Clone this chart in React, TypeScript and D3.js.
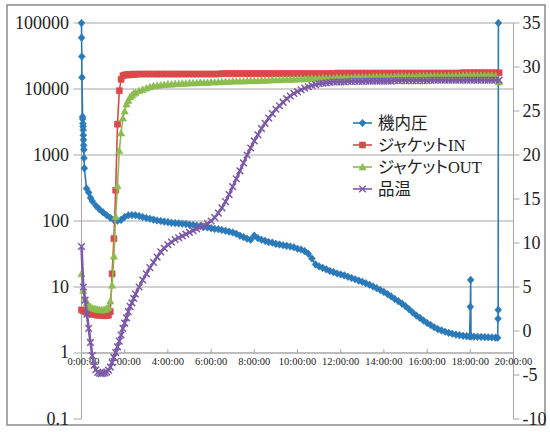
import React from 'react';
import * as d3 from 'd3';

// ---------- axis definitions ----------
const xTickMinutes = [0, 120, 240, 360, 480, 600, 720, 840, 960, 1080, 1200];
const xTickLabels = ['0:00:00', '2:00:00', '4:00:00', '6:00:00', '8:00:00', '10:00:00', '12:00:00', '14:00:00', '16:00:00', '18:00:00', '20:00:00'];
const leftTicks = [0.1, 1, 10, 100, 1000, 10000, 100000];
const leftTickLabels = ['0.1', '1', '10', '100', '1000', '10000', '100000'];
const rightTicks = [-10, -5, 0, 5, 10, 15, 20, 25, 30, 35];

const seriesNames = ['機内圧', 'ジャケットIN', 'ジャケットOUT', '品温'];
const seriesColors = ['#2a7ab9', '#d9494a', '#8bbd4f', '#7d5aa8'];

// ---------- pressure (left, log axis) ----------
const pressureMinutes = [
  0, 0.3, 0.8, 1.3, 3, 3.4, 3.8, 4.2, 4.6, 5, 5.5, 6, 6.5, 7, 8, 14, 20, 25, 30, 40, 50,
  60, 70, 80, 90, 100, 110, 120, 130, 140, 150, 160, 170, 180, 190, 200, 210, 220, 230, 240,
  250, 260, 270, 280, 290, 300, 310, 320, 330, 340, 350, 360, 370, 380, 390, 400, 410, 420,
  430, 440, 450, 460, 470, 480, 490, 500, 510, 520, 530, 540, 550, 560, 570, 580, 590, 600,
  610, 620, 630, 640, 650, 660, 670, 680, 690, 700, 710, 720, 730, 740, 750, 760, 770, 780,
  790, 800, 810, 820, 830, 840, 850, 860, 870, 880, 890, 900, 910, 920, 930, 940, 950, 960,
  970, 980, 990, 1000, 1010, 1020, 1030, 1040, 1050, 1060, 1070, 1078, 1080, 1081, 1082, 1090,
  1100, 1110, 1120, 1130, 1140, 1150, 1156, 1157, 1157.5, 1158,
];
const pressureValues = [
  100000, 60000, 31000, 15000, 3800, 3500, 3000, 2700, 2400, 2000, 1700, 1400, 1200, 900, 630, 310, 270, 225, 200, 170, 150,
  135, 122, 112, 104, 101, 104, 115, 122, 123, 122, 119, 115, 111, 108, 105, 102, 100, 98, 96,
  94, 93, 92, 91, 90, 88, 87, 85, 84, 82, 80, 78, 76, 75, 73, 71, 69, 67,
  64, 60, 57, 54, 52, 60, 55, 52, 50, 48, 47, 45, 44, 43, 42, 41, 40, 38,
  37, 35, 32, 27, 22, 20.5, 19.5, 18.5, 17.5, 16.8, 16.0, 15.5, 15.0, 14.3, 13.7, 13.1, 12.5, 12.0,
  11.4, 10.8, 10.2, 9.6, 9.0, 8.4, 7.8, 7.2, 6.6, 6.1, 5.6, 5.1, 4.6, 4.1, 3.7, 3.4, 3.1, 2.85,
  2.65, 2.45, 2.3, 2.2, 2.1, 2.02, 1.96, 1.9, 1.86, 1.82, 1.8, 1.78, 5.0, 12.8, 1.78, 1.77,
  1.76, 1.75, 1.74, 1.73, 1.72, 1.71, 1.7, 3.3, 4.5, 100000,
];

// ---------- temperatures (right axis) ----------
const tempMinutes = d3.range(0, 150, 5).concat(d3.range(150, 1170, 10));

const jacketIn = [
  // 0..145 (5 min)
  2.4, 2.3, 2.2, 2.1, 2.0, 2.0, 1.9, 1.9, 1.85, 1.8, 1.8, 1.8, 1.75, 1.75, 1.75, 1.8,
  2.2, 6.5, 10.5, 16.0, 23.5, 27.3, 28.6, 29.0, 29.1, 29.1, 29.15, 29.1, 29.15, 29.2,
  // 150..500
  29.15, 29.2, 29.2, 29.2, 29.2, 29.2, 29.2, 29.2, 29.2, 29.2, 29.2, 29.2, 29.2, 29.2, 29.2, 29.2,
  29.2, 29.2, 29.2, 29.2, 29.2, 29.2, 29.2, 29.2, 29.25, 29.25, 29.25, 29.25, 29.25, 29.25, 29.25, 29.25,
  29.25, 29.25, 29.25, 29.25,
  // 510..1160
  29.25, 29.25, 29.25, 29.25, 29.25, 29.25, 29.25, 29.25, 29.25, 29.25, 29.25, 29.25, 29.25, 29.25, 29.25, 29.25,
  29.25, 29.25, 29.25, 29.25, 29.3, 29.3, 29.3, 29.3, 29.3, 29.3, 29.3, 29.3, 29.3, 29.3, 29.3, 29.3,
  29.3, 29.3, 29.3, 29.3, 29.3, 29.3, 29.3, 29.3, 29.3, 29.3, 29.3, 29.3, 29.3, 29.3, 29.3, 29.3,
  29.3, 29.3, 29.3, 29.3, 29.3, 29.3, 29.3, 29.35, 29.35, 29.35, 29.35, 29.35, 29.35, 29.35, 29.35, 29.35,
  29.35, 29.35,
];

const jacketOut = [
  // 0..145
  6.5, 4.6, 3.7, 3.2, 2.9, 2.75, 2.6, 2.55, 2.5, 2.45, 2.4, 2.4, 2.4, 2.45, 2.55, 2.7,
  3.4, 5.2, 8.5, 13.0, 16.5, 20.5, 22.5, 24.2, 25.0, 25.8, 26.2, 26.6, 26.8, 27.0,
  // 150..500
  27.1, 27.3, 27.45, 27.6, 27.75, 27.85, 27.9, 27.95, 28.0, 28.05, 28.05, 28.1, 28.1, 28.15, 28.15, 28.2,
  28.2, 28.2, 28.25, 28.25, 28.25, 28.3, 28.3, 28.3, 28.35, 28.35, 28.35, 28.4, 28.4, 28.4, 28.4, 28.45,
  28.45, 28.45, 28.45, 28.5,
  // 510..1160
  28.5, 28.5, 28.55, 28.55, 28.55, 28.6, 28.6, 28.6, 28.6, 28.65, 28.65, 28.65, 28.7, 28.7, 28.7, 28.7,
  28.75, 28.75, 28.75, 28.75, 28.8, 28.8, 28.8, 28.8, 28.8, 28.85, 28.85, 28.85, 28.85, 28.85, 28.9, 28.9,
  28.9, 28.9, 28.9, 28.9, 28.9, 28.95, 28.95, 28.95, 28.95, 28.95, 28.95, 29.0, 29.0, 29.0, 29.0, 29.0,
  29.0, 29.0, 29.0, 29.0, 29.0, 29.0, 29.0, 29.05, 29.05, 29.05, 29.05, 29.05, 29.05, 29.05, 29.05, 29.05,
  29.0, 28.3,
];

const productTemp = [
  // 0..145
  9.6, 5.0, 3.5, 1.9, 0.3, -1.3, -2.8, -3.9, -4.4, -4.7, -4.8, -4.85, -4.8, -4.75, -4.65, -4.45,
  -4.1, -3.6, -3.0, -2.45, -1.8, -1.15, -0.45, 0.3, 0.9, 1.5, 2.2, 2.8, 3.2, 3.7,
  // 150..700
  4.2, 5.0, 5.8, 6.5, 7.2, 7.8, 8.4, 9.0, 9.4, 9.8, 10.1, 10.4, 10.6, 10.8, 11.0, 11.2,
  11.4, 11.6, 11.8, 12.0, 12.2, 12.5, 12.9, 13.4, 14.0, 14.7, 15.5, 16.4, 17.3, 18.2, 19.1, 20.0,
  20.8, 21.6, 22.3, 23.0, 23.6, 24.2, 24.7, 25.2, 25.6, 26.0, 26.4, 26.7, 27.0, 27.2, 27.4, 27.6,
  27.75, 27.9, 28.0, 28.1, 28.15, 28.2, 28.25, 28.3,
  // 710..1160
  28.3, 28.3, 28.3, 28.35, 28.35, 28.35, 28.35, 28.35, 28.4, 28.4, 28.4, 28.4, 28.4, 28.4, 28.4, 28.4,
  28.45, 28.45, 28.45, 28.45, 28.45, 28.45, 28.45, 28.45, 28.45, 28.45, 28.5, 28.5, 28.5, 28.5, 28.5, 28.5,
  28.5, 28.5, 28.5, 28.5, 28.5, 28.5, 28.5, 28.5, 28.5, 28.5, 28.5, 28.5, 28.5, 28.5,
];

// ---------- layout ----------
const W = 550;
const H = 432;
const plotLeft = 81.5;
const plotRight = 513.5;
const plotTop = 23;
const plotBottom = 419;

const serif = "'Liberation Serif', 'Times New Roman', serif";
const legendFont = "'Liberation Serif', 'Noto Sans CJK JP', serif";

const markerPaths = [
  'M0,-3.8L3.4,0L0,3.8L-3.4,0Z',
  'M-3,-3H3V3H-3Z',
  'M0,-3.6L3.6,3L-3.6,3Z',
  'M-3.3,-3.3L3.3,3.3M-3.3,3.3L3.3,-3.3',
];
const lineWidths = [1.6, 1.6, 1.6, 2.6];

function Marker({ kind, color, x, y }: { kind: number; color: string; x: number; y: number }) {
  const isX = kind === 3;
  return (
    <path
      d={markerPaths[kind]}
      transform={`translate(${x},${y})`}
      fill={isX ? 'none' : color}
      stroke={color}
      strokeWidth={isX ? 1.5 : 0.6}
    />
  );
}

export default function App() {
  const x = d3.scaleLinear().domain([0, 1200]).range([plotLeft, plotRight]);
  const yL = d3.scaleLog().domain([0.1, 100000]).range([plotBottom, plotTop]);
  const yR = d3.scaleLinear().domain([-10, 35]).range([plotBottom, plotTop]);

  const pressurePts: [number, number][] = pressureMinutes.map((m, i) => [x(m), yL(pressureValues[i])]);
  const tempSeries = [jacketIn, jacketOut, productTemp].map((vals) =>
    tempMinutes.map((m, i) => [x(m), yR(vals[i])] as [number, number])
  );
  const allSeries = [pressurePts, ...tempSeries];
  const line = d3.line<[number, number]>().x((d) => d[0]).y((d) => d[1]);

  const xAxisY = yL(1);
  const legendRows = [123, 145, 167, 189];

  return (
    <svg
      width={W}
      height={H}
      viewBox={`0 0 ${W} ${H}`}
      style={{ position: 'absolute', left: 0, top: 0, background: '#fff' }}
    >
      <rect x={0} y={0} width={W} height={H} fill="#fff" />
      <rect x={7} y={5} width={538} height={420} fill="none" stroke="#8a8a8a" strokeWidth={1.5} />

      {/* gridlines */}
      {leftTicks.filter((t) => t >= 1).map((t) => (
        <line key={'g' + t} x1={plotLeft} x2={plotRight} y1={yL(t)} y2={yL(t)} stroke="#a6a6a6" strokeWidth={1} />
      ))}

      {/* left axis */}
      <line x1={plotLeft} x2={plotLeft} y1={plotTop} y2={plotBottom} stroke="#a6a6a6" strokeWidth={1} />
      {leftTicks.map((t, i) => (
        <g key={'l' + t}>
          <line x1={plotLeft - 8} x2={plotLeft} y1={yL(t)} y2={yL(t)} stroke="#a6a6a6" strokeWidth={1} />
          <text x={69} y={yL(t) - (t === 1 ? 1.5 : 0)} dy="0.35em" textAnchor="end" fontFamily={serif} fontSize={18} fill="#222">
            {leftTickLabels[i]}
          </text>
        </g>
      ))}

      {/* right axis */}
      <line x1={plotRight} x2={plotRight} y1={plotTop} y2={plotBottom} stroke="#a6a6a6" strokeWidth={1} />
      {rightTicks.map((t) => (
        <g key={'r' + t}>
          <line x1={plotRight} x2={plotRight + 6} y1={yR(t)} y2={yR(t)} stroke="#a6a6a6" strokeWidth={1} />
          <text x={plotRight + 9} y={yR(t)} dy="0.35em" textAnchor="start" fontFamily={serif} fontSize={18} fill="#222">
            {t}
          </text>
        </g>
      ))}

      {/* x axis */}
      <line x1={plotLeft} x2={plotRight} y1={xAxisY} y2={xAxisY} stroke="#a6a6a6" strokeWidth={1} />
      {xTickMinutes.map((m, i) => (
        <g key={'x' + m}>
          <line x1={x(m)} x2={x(m)} y1={xAxisY - 4} y2={xAxisY} stroke="#a6a6a6" strokeWidth={1} />
          <text x={x(m) + (i === 0 ? 2 : 0)} y={365} textAnchor="middle" fontFamily={serif} fontSize={10.5} fill="#222">
            {xTickLabels[i]}
          </text>
        </g>
      ))}

      {/* series */}
      {allSeries.map((pts, si) => (
        <g key={'s' + si}>
          <path d={line(pts) || ''} fill="none" stroke={seriesColors[si]} strokeWidth={lineWidths[si]} strokeLinejoin="round" />
          {pts.map((p, i) => (
            <Marker key={i} kind={si} color={seriesColors[si]} x={p[0]} y={p[1]} />
          ))}
        </g>
      ))}

      {/* legend */}
      {seriesNames.map((name, i) => (
        <g key={'lg' + i}>
          <line x1={353} x2={372} y1={legendRows[i]} y2={legendRows[i]} stroke={seriesColors[i]} strokeWidth={1.6} />
          <Marker kind={i} color={seriesColors[i]} x={362.5} y={legendRows[i]} />
          <text
            x={378}
            y={legendRows[i]}
            dy="0.36em"
            fontFamily={legendFont}
            fontSize={16.5}
            fill="#222"
            style={{ fontFeatureSettings: '"palt"' }}
          >
            {name}
          </text>
        </g>
      ))}
    </svg>
  );
}
